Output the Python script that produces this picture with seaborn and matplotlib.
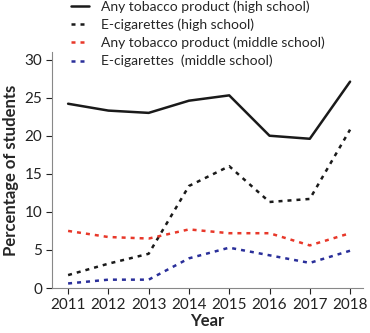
import matplotlib
matplotlib.use("Agg")
import matplotlib.pyplot as plt
import seaborn as sns
import pandas as pd

years = [2011, 2012, 2013, 2014, 2015, 2016, 2017, 2018]
hs_any = [24.2, 23.3, 23.0, 24.6, 25.3, 20.0, 19.6, 27.1]
hs_ecig = [1.7, 3.2, 4.5, 13.4, 16.0, 11.3, 11.7, 20.8]
ms_any = [7.5, 6.7, 6.5, 7.7, 7.2, 7.2, 5.6, 7.2]
ms_ecig = [0.6, 1.1, 1.1, 3.9, 5.3, 4.3, 3.3, 4.9]
series_names = ["Any tobacco product (high school)", "E-cigarettes (high school)",
                "Any tobacco product (middle school)", "E-cigarettes  (middle school)"]
y_ticks = [0, 5, 10, 15, 20, 25, 30]

rows = []
for name, vals in zip(series_names, [hs_any, hs_ecig, ms_any, ms_ecig]):
    for yr, v in zip(years, vals):
        rows.append({"Year": yr, "Percentage of students": v, "Series": name})
df = pd.DataFrame(rows)

sns.set_style("ticks")
plt.rcParams['font.family'] = ['Lato', 'DejaVu Sans']

fig = plt.figure(figsize=(3.7, 3.33), dpi=100)
ax = fig.add_axes([0.1405, 0.135, 0.981 - 0.1405, 0.844 - 0.135])

palette = {series_names[0]: "#1a1a1a", series_names[1]: "#1a1a1a",
           series_names[2]: "#e8382a", series_names[3]: "#2a2f9a"}
dashes = {series_names[0]: "", series_names[1]: (1.6, 2.0),
          series_names[2]: (1.6, 2.0), series_names[3]: (1.6, 2.0)}

sns.lineplot(data=df, x="Year", y="Percentage of students", hue="Series",
             style="Series", palette=palette, dashes=dashes, linewidth=1.8,
             ax=ax, legend=True)

ax.set_xlim(2010.6, 2018.32)
ax.set_ylim(0, 31)
ax.set_xticks(years)
ax.set_yticks(y_ticks)
ax.tick_params(axis='both', labelsize=11, colors="#222222", length=4, width=0.8, pad=3)
for t in ax.get_xticklines() + ax.get_yticklines():
    t.set_color("#888888")
for s in ["top", "right"]:
    ax.spines[s].set_visible(False)
for s in ["left", "bottom"]:
    ax.spines[s].set_color("#888888")
    ax.spines[s].set_linewidth(0.8)

ax.set_xlabel("Year", fontsize=12, fontweight="bold", labelpad=1)
ax.set_ylabel("Percentage of students", fontsize=12, fontweight="bold", labelpad=4)

handles, labels = ax.get_legend_handles_labels()
ax.get_legend().remove()
fig.legend(handles, labels, loc="upper left", bbox_to_anchor=(0.178, 1.015),
           frameon=False, fontsize=10, handlelength=1.3, handletextpad=0.8,
           labelspacing=0.4, borderaxespad=0)

fig.savefig("out.png", dpi=100)
